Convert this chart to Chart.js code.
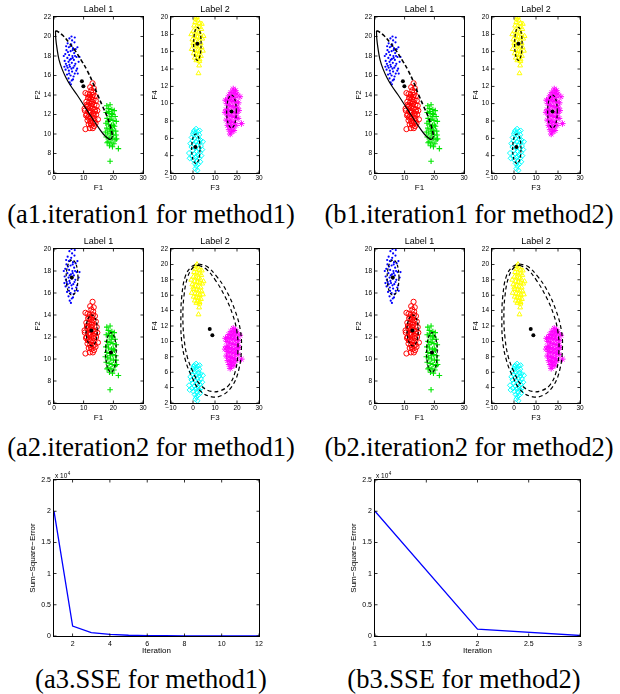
<!DOCTYPE html>
<html>
<head>
<meta charset="utf-8">
<script src="https://cdn.jsdelivr.net/npm/chart.js@4.4.1/dist/chart.umd.min.js"></script>
<style>
    body { margin: 0; background: #fff; width: 620px; height: 694px; position: relative; overflow: hidden; }
    canvas { position: absolute; }
    .frame { position: absolute; box-sizing: border-box; border: 1px solid #000; pointer-events: none; }
    .cap { position: absolute; width: 330px; text-align: center; font-family: 'Liberation Serif', 'Times New Roman', serif;
           font-size: 26.5px; line-height: 30px; color: #000; white-space: nowrap; }
</style>
</head>
<body>
<script>
// ---- cluster samples (F1,F2) ----
const blueF12 = [
    [5.2,19.8],[6.1,19.6],[4.6,19.3],[5.8,19.2],[6.9,19.4],[5.0,18.9],[6.4,18.8],[7.3,18.7],[4.2,18.6],[5.6,18.5],
    [6.8,18.3],[3.8,18.2],[5.1,18.1],[6.2,18.0],[7.6,17.9],[4.5,17.8],[5.7,17.7],[6.7,17.6],[3.6,17.5],[4.9,17.4],
    [6.0,17.3],[7.2,17.2],[8.3,17.4],[4.3,17.0],[5.4,16.9],[6.5,16.8],[7.8,16.7],[3.9,16.6],[5.0,16.5],[6.1,16.4],
    [7.0,16.2],[4.4,16.1],[5.6,16.0],[6.6,15.9],[4.9,15.7],[6.0,15.5],[5.3,15.3],[8.6,17.9],[3.3,18.0],[7.9,18.9],
    [5.9,20.0],[4.0,17.2],[6.9,17.0],[5.2,17.1],[6.3,18.6],[5.5,19.0],[4.7,18.4],[7.1,18.0],[5.9,16.7],[4.6,16.8],
    [6.3,17.8],[5.3,17.6],[7.5,16.5],[5.1,16.2],[6.4,15.6],[4.1,19.0],[7.0,19.9],[5.7,15.1],[8.0,16.2],[3.5,16.9]
];
const redF12 = [
    [13.0,15.2],[12.2,14.8],[13.4,14.7],[12.6,14.5],[10.6,14.2],[11.3,14.1],[12.0,14.0],[13.1,14.0],[13.8,13.9],[11.5,13.7],
    [12.4,13.6],[13.3,13.5],[14.1,13.4],[10.9,13.3],[11.8,13.2],[12.7,13.1],[13.6,13.0],[14.4,12.9],[11.2,12.8],[12.1,12.7],
    [13.0,12.6],[13.9,12.5],[10.4,12.4],[11.5,12.3],[12.4,12.2],[13.3,12.1],[14.2,12.0],[10.8,11.9],[11.8,11.8],[12.7,11.7],
    [13.6,11.6],[14.8,11.5],[11.3,11.4],[12.2,11.3],[13.1,11.2],[14.0,11.1],[11.7,11.0],[12.6,10.9],[13.5,10.8],[10.6,10.5],
    [12.1,10.6],[13.1,10.6],[11.0,12.0],[12.0,12.4],[12.9,13.3],[11.6,12.9],[13.8,12.3],[12.3,11.6],[11.9,13.8],[13.2,14.3],
    [10.3,12.6],[14.6,12.4],[12.5,12.9],[11.4,11.7],[13.4,11.9],[12.8,13.8],[11.1,13.0],[13.7,11.3],[12.4,11.1],[11.9,12.2]
];
const greenF12 = [
    [17.8,12.9],[18.9,13.0],[18.3,12.6],[19.5,12.5],[20.3,12.4],[17.6,12.2],[18.6,12.1],[19.8,12.0],[20.6,11.8],[17.9,11.6],
    [18.9,11.5],[19.9,11.4],[21.0,11.3],[17.5,11.1],[18.4,11.0],[19.4,10.9],[20.4,10.8],[17.8,10.6],[18.8,10.5],[19.8,10.4],
    [20.8,10.3],[18.1,10.1],[19.1,10.0],[20.1,9.9],[17.6,9.7],[18.6,9.6],[19.6,9.5],[20.6,9.4],[18.2,9.2],[19.2,9.1],
    [20.2,9.0],[21.1,9.5],[18.7,8.8],[19.7,8.7],[21.7,8.5],[18.9,7.2],[17.3,10.2],[19.3,11.8],[20.0,10.9],[18.5,12.3],
    [19.0,10.3],[20.9,9.9],[17.9,9.1],[19.5,12.1],[18.2,11.3]
];
// ---- cluster samples (F3,F4) ----
const yellowF34 = [
    [1.8,20.0],[2.2,19.6],[1.0,19.4],[3.0,19.3],[0.5,19.0],[1.7,18.9],[2.8,18.8],[3.8,18.6],[0.2,18.4],[1.3,18.3],
    [2.4,18.2],[3.4,18.0],[0.7,17.8],[1.9,17.7],[3.0,17.6],[4.2,17.5],[-0.3,17.4],[1.0,17.2],[2.2,17.1],[3.5,17.0],
    [0.4,16.8],[1.6,16.7],[2.7,16.6],[3.9,16.5],[-0.6,16.3],[0.9,16.2],[2.0,16.1],[3.1,16.0],[4.5,16.1],[0.3,15.8],
    [1.4,15.7],[2.5,15.6],[3.6,15.5],[0.8,15.3],[2.0,15.2],[3.0,15.1],[1.5,15.0],[2.9,14.9],[2.8,14.4],[2.5,13.5],
    [1.2,19.8],[4.0,19.2],[-0.8,18.0],[4.8,17.8],[0.1,17.0]
];
const magentaF34 = [
    [18.3,11.7],[19.3,11.5],[17.2,11.3],[18.6,11.2],[20.0,11.1],[16.3,10.9],[17.6,10.8],[19.0,10.7],[21.3,10.8],[15.8,10.5],
    [16.9,10.4],[18.2,10.3],[19.5,10.2],[20.6,10.1],[15.4,10.0],[16.5,9.8],[17.8,9.7],[19.1,9.6],[20.3,9.5],[15.1,9.3],
    [16.2,9.2],[17.4,9.1],[18.7,9.0],[19.9,8.9],[15.6,8.7],[16.8,8.6],[18.1,8.5],[19.4,8.4],[20.5,8.3],[15.2,8.1],
    [16.4,8.0],[17.6,7.9],[18.8,7.8],[22.0,7.7],[15.8,7.5],[17.0,7.4],[18.2,7.3],[19.5,7.5],[16.4,7.0],[17.6,6.8],
    [16.9,6.5],[14.6,9.0],[20.8,9.2],[14.8,10.4],[18.6,6.9]
];
const cyanF34 = [
    [1.4,7.1],[0.6,6.9],[2.2,6.8],[1.2,6.6],[0.0,6.5],[2.8,6.4],[1.8,6.3],[-0.6,6.1],[0.8,6.0],[2.4,5.9],
    [3.4,5.8],[-0.2,5.7],[1.3,5.6],[2.9,5.5],[-1.2,5.4],[0.5,5.3],[2.0,5.2],[3.6,5.1],[-0.7,5.0],[1.0,4.9],
    [2.6,4.8],[4.2,4.7],[-0.1,4.6],[1.6,4.5],[3.2,4.4],[-1.8,4.3],[0.6,4.2],[2.2,4.1],[3.8,4.0],[-0.5,3.9],
    [1.2,3.8],[2.8,3.7],[0.2,3.5],[1.8,3.4],[3.3,3.3],[0.8,3.1],[2.3,3.0],[1.5,2.8],[1.1,2.5],[2.0,2.3],
    [-1.5,3.7],[4.5,5.6],[0.3,6.7],[3.0,6.9],[1.7,3.9]
];

// ---- centroids ----
const centersIt1F12 = [[9.4,15.4],[9.9,14.9]];
const centersIt1F34 = [[2.0,16.9],[17.5,9.1],[1.1,5.0]];
const centersIt2F12 = [[6.0,17.4],[12.6,12.6],[19.2,10.6]];
const centersIt2F34 = [[7.6,11.6],[8.8,10.8]];

// ---- covariance ellipse outlines ----
const bigSolidIt1F12 = [[0.5,20.6],[0.6,19.8],[1.0,18.8],[1.7,17.6],[2.8,16.6],[4.0,15.8],[5.5,15.0],[7.8,14.0],
    [11.0,12.5],[14.0,11.1],[16.6,10.0],[18.4,9.5],[19.3,9.5],[19.7,9.8]];
const bigDashIt1F12 = [[0.5,20.6],[1.3,20.5],[3.0,20.1],[5.0,19.4],[7.0,18.6],[9.3,17.5],[11.2,16.5],[12.9,15.4],
    [14.6,14.1],[16.3,12.9],[17.9,11.8],[19.0,10.8],[19.6,10.0],[19.7,9.8]];
const ellYellowIt1 = [[3.7,16.9],[3.47,17.85],[2.85,18.55],[2.0,18.8],[1.15,18.55],[0.53,17.85],[0.3,16.9],
    [0.53,15.95],[1.15,15.25],[2.0,15.0],[2.85,15.25],[3.47,15.95],[3.7,16.9]];
const ellMagentaIt1 = [[19.7,9.1],[19.41,10.05],[18.6,10.75],[17.5,11.0],[16.4,10.75],[15.59,10.05],[15.3,9.1],
    [15.59,8.15],[16.4,7.45],[17.5,7.2],[18.6,7.45],[19.41,8.15],[19.7,9.1]];
const ellCyanIt1 = [[3.2,4.8],[2.95,5.65],[2.25,6.27],[1.3,6.5],[0.35,6.27],[-0.35,5.65],[-0.6,4.8],
    [-0.35,3.95],[0.35,3.33],[1.3,3.1],[2.25,3.33],[2.95,3.95],[3.2,4.8]];
const ellBlueIt2 = [[8.1,17.4],[7.83,18.2],[7.1,18.79],[6.1,19.0],[5.1,18.79],[4.37,18.2],[4.1,17.4],
    [4.37,16.6],[5.1,16.01],[6.1,15.8],[7.1,16.01],[7.83,16.6],[8.1,17.4]];
const ellRedIt2 = [[14.6,12.6],[14.35,13.3],[13.65,13.81],[12.7,14.0],[11.75,13.81],[11.05,13.3],[10.8,12.6],
    [11.05,11.9],[11.75,11.39],[12.7,11.2],[13.65,11.39],[14.35,11.9],[14.6,12.6]];
const ellGreenIt2 = [[21.0,10.6],[20.76,11.5],[20.1,12.16],[19.2,12.4],[18.3,12.16],[17.64,11.5],[17.4,10.6],
    [17.64,9.7],[18.3,9.04],[19.2,8.8],[20.1,9.04],[20.76,9.7],[21.0,10.6]];
const bigOuterIt2F34 = [[2.5,20.05],[6.2,19.75],[10.75,18.45],[15.3,16.5],[19.0,14.1],[21.5,11.5],[22.0,9.0],
    [20.8,6.3],[17.8,4.2],[13.2,3.0],[8.5,2.8],[3.2,3.6],[-0.5,5.4],[-3.5,7.6],[-5.2,10.2],[-5.5,13.3],
    [-5.1,15.85],[-3.5,18.45],[-0.5,19.75],[2.5,20.05]];
const bigInnerIt2F34 = [[2.5,19.9],[6.0,19.4],[10.3,17.9],[14.6,15.8],[18.0,13.5],[20.0,11.2],[20.4,8.7],
    [19.3,6.2],[16.5,4.4],[12.5,3.6],[8.3,3.5],[3.5,4.3],[0.2,5.9],[-2.6,8.0],[-4.1,10.5],[-4.6,13.3],
    [-4.1,15.9],[-2.5,18.3],[0.0,19.6],[2.5,19.9]];

// ---- SSE per iteration ----
const sseIterM1 = [1, 2, 3, 4, 5, 6, 7, 8, 9, 10, 11, 12];
const sseM1 = [20000, 1600, 550, 250, 120, 60, 40, 30, 20, 10, 10, 5];
const sseIterM2 = [1, 2, 3];
const sseM2 = [20000, 1100, 80];

// ---- tick labels ----
const ticksF1 = [0, 10, 20, 30];
const ticksF3 = [-10, 0, 10, 20, 30];
const ticksF2It1 = [6, 8, 10, 12, 14, 16, 18, 20, 22];
const ticksF4It1 = [2, 4, 6, 8, 10, 12, 14, 16, 18, 20];
const ticksF2It2 = [6, 8, 10, 12, 14, 16, 18, 20];
const ticksF4It2 = [2, 4, 6, 8, 10, 12, 14, 16, 18, 20, 22];
const ticksIterM1 = [2, 4, 6, 8, 10, 12];
const ticksIterM2 = [1, 1.5, 2, 2.5, 3];
const ticksSSE = [0, 5000, 10000, 15000, 20000, 25000];

const FONT = "'Liberation Sans', Arial, Helvetica, sans-serif";
Chart.defaults.font.family = FONT;
Chart.defaults.color = '#000';

const pts = arr => arr.map(p => ({x: p[0], y: p[1]}));
const fmtTick = v => (v < 0 ? '\u2212' + Math.abs(v) : String(v));

// inward tick marks on all four sides, plus the optional "x 10^4" multiplier
function makeDecor(withExp) {
    return {
        id: 'decor',
        afterDraw(chart) {
            const ctx = chart.ctx;
            const x = chart.scales.x;
            const y = chart.scales.y;
            const left = x.left, right = x.right, top = y.top, bottom = y.bottom;
            const tl = 2.5;
            ctx.save();
            ctx.fillStyle = '#000';
            x.ticks.forEach(t => {
                const px = x.getPixelForValue(t.value);
                ctx.fillRect(px - 0.4, bottom - tl, 0.8, tl);
                ctx.fillRect(px - 0.4, top, 0.8, tl);
            });
            y.ticks.forEach(t => {
                const py = y.getPixelForValue(t.value);
                ctx.fillRect(left, py - 0.4, tl, 0.8);
                ctx.fillRect(right - tl, py - 0.4, tl, 0.8);
            });
            if (withExp) {
                ctx.font = '6.5px ' + FONT;
                ctx.fillText('x 10', left + 1, top - 2);
                const tw = ctx.measureText('x 10').width;
                ctx.font = '4.5px ' + FONT;
                ctx.fillText('4', left + 1.5 + tw, top - 5.5);
            }
            ctx.restore();
        }
    };
}

function addCanvas(left, top, w, h) {
    const c = document.createElement('canvas');
    c.width = w;
    c.height = h;
    c.style.left = left + 'px';
    c.style.top = top + 'px';
    c.style.width = w + 'px';
    c.style.height = h + 'px';
    document.body.appendChild(c);
    return c;
}

// axes box drawn over the plot area
function addFrame(box) {
    const [pl, pt, pr, pb] = box;
    const d = document.createElement('div');
    d.className = 'frame';
    d.style.left = (pl - 1) + 'px';
    d.style.top = (pt - 1) + 'px';
    d.style.width = (pr - pl + 2) + 'px';
    d.style.height = (pb - pt + 2) + 'px';
    document.body.appendChild(d);
}

function addCaption(cx, cy, text) {
    const d = document.createElement('div');
    d.className = 'cap';
    d.style.left = (cx - 165) + 'px';
    d.style.top = (cy - 15) + 'px';
    d.textContent = text;
    document.body.appendChild(d);
}

function axis(dir, min, max, ticks, title, o) {
    o = o || {};
    const isX = dir === 'x';
    return {
        type: 'linear',
        min: min,
        max: max,
        afterBuildTicks: s => { s.ticks = ticks.map(v => ({value: v})); },
        afterFit: s => { if (isX) s.height = o.size || 23; else s.width = o.size || 30; },
        grid: {display: false, drawTicks: false},
        border: {display: false},
        ticks: {
            autoSkip: false, maxRotation: 0, minRotation: 0,
            padding: isX ? (o.tickPad !== undefined ? o.tickPad : 1.5) : 3,
            font: {size: o.tickSize || 6.5},
            callback: o.fmt || fmtTick
        },
        title: {
            display: true, text: title, font: {size: 8},
            padding: isX ? {top: 0, bottom: o.titlePad !== undefined ? o.titlePad : 3.7}
                         : {top: o.titlePad !== undefined ? o.titlePad : 9.2, bottom: 0}
        }
    };
}

function dots(arr, color, style, r, bw, fill) {
    return {
        data: pts(arr), pointStyle: style, pointRadius: r, borderWidth: bw,
        borderColor: color, backgroundColor: fill ? color : 'rgba(0,0,0,0)'
    };
}

function curve(arr, dash, width) {
    return {
        data: pts(arr), showLine: true, pointRadius: 0, borderColor: '#000', backgroundColor: '#000',
        borderWidth: width || 1.2, borderDash: dash || [], tension: 0.4, fill: false
    };
}

// plot area [left, top, right, bottom] in page pixels
function scatterPanel(box, title, xTitle, yTitle, xMin, xMax, xTicks, yMin, yMax, yTicks, datasets) {
    const [pl, pt, pr, pb] = box;
    const c = addCanvas(pl - 30, pt - 17, pr - pl + 38, pb - pt + 40);
    new Chart(c, {
        type: 'scatter',
        data: {datasets: datasets},
        options: {
            responsive: false,
            animation: false,
            devicePixelRatio: 1,
            layout: {padding: {right: 8}},
            plugins: {
                legend: {display: false},
                tooltip: {enabled: false},
                title: {display: true, fullSize: false, text: title,
                        font: {size: 9, weight: 'normal', lineHeight: '12px'},
                        padding: {top: 4, bottom: 1}}
            },
            scales: {
                x: axis('x', xMin, xMax, xTicks, xTitle),
                y: axis('y', yMin, yMax, yTicks, yTitle)
            }
        },
        plugins: [makeDecor(false)]
    });
    addFrame(box);
}

function ssePanel(box, iters, sse, xMin, xMax, xTicks) {
    const [pl, pt, pr, pb] = box;
    const c = addCanvas(pl - 30, pt - 12, pr - pl + 38, pb - pt + 33);
    new Chart(c, {
        type: 'scatter',
        data: {datasets: [{
            data: iters.map((it, i) => ({x: it, y: sse[i]})),
            showLine: true, pointRadius: 0, borderColor: '#0000ff', borderWidth: 1.3, fill: false
        }]},
        options: {
            responsive: false,
            animation: false,
            devicePixelRatio: 1,
            layout: {padding: {top: 12, right: 8}},
            plugins: {legend: {display: false}, tooltip: {enabled: false}},
            scales: {
                x: axis('x', xMin, xMax, xTicks, 'Iteration', {size: 21, tickSize: 7, tickPad: 3.5, titlePad: 1}),
                y: axis('y', 0, 25000, ticksSSE, 'Sum\u2212Square\u2212Error',
                        {tickSize: 7, titlePad: 4.2, fmt: v => String(v / 1e4)})
            }
        },
        plugins: [makeDecor(true)]
    });
    addFrame(box);
}

const GREEN = '#00e600';

function it1Label1() {
    return [
        dots(centersIt1F12, '#000', 'circle', 2, 0, true),
        curve(bigSolidIt1F12, [], 1.2),
        curve(bigDashIt1F12, [4, 2.5], 1.6),
        dots(blueF12, '#0000ff', 'circle', 1.1, 0, true),
        dots(redF12, '#ff0000', 'circle', 2.6, 1, false),
        dots(greenF12, GREEN, 'cross', 2.8, 1.1, false)
    ];
}
function it1Label2() {
    return [
        dots(centersIt1F34, '#000', 'circle', 2, 0, true),
        curve(ellYellowIt1, [3, 2]),
        curve(ellMagentaIt1, [3, 2]),
        curve(ellCyanIt1, [3, 2]),
        dots(yellowF34, '#ffff00', 'triangle', 2.8, 1, false),
        dots(magentaF34, '#ff00ff', 'star', 3.2, 1, false),
        dots(cyanF34, '#00ffff', 'rectRot', 2.6, 1, false)
    ];
}
function it2Label1() {
    return [
        dots(centersIt2F12, '#000', 'circle', 2, 0, true),
        curve(ellBlueIt2, [3, 2]),
        curve(ellRedIt2, [3, 2]),
        curve(ellGreenIt2, [3, 2]),
        dots(blueF12, '#0000ff', 'circle', 1.1, 0, true),
        dots(redF12, '#ff0000', 'circle', 2.6, 1, false),
        dots(greenF12, GREEN, 'cross', 2.8, 1.1, false)
    ];
}
function it2Label2() {
    return [
        dots(centersIt2F34, '#000', 'circle', 2, 0, true),
        curve(bigOuterIt2F34, [4, 3]),
        curve(bigInnerIt2F34, [4, 3]),
        dots(yellowF34, '#ffff00', 'triangle', 2.8, 1, false),
        dots(magentaF34, '#ff00ff', 'star', 3.2, 1, false),
        dots(cyanF34, '#00ffff', 'rectRot', 2.6, 1, false)
    ];
}

// row 1: iteration 1
[[54, 171], [375, 492]].forEach(([l1, l2]) => {
    scatterPanel([l1, 17, l1 + 89, 173], 'Label 1', 'F1', 'F2', 0, 30, ticksF1, 6, 22, ticksF2It1, it1Label1());
    scatterPanel([l2, 17, l2 + 88, 173], 'Label 2', 'F3', 'F4', -10, 30, ticksF3, 2, 20, ticksF4It1, it1Label2());
});
// row 2: iteration 2
[[54, 171], [375, 492]].forEach(([l1, l2]) => {
    scatterPanel([l1, 249, l1 + 89, 403], 'Label 1', 'F1', 'F2', 0, 30, ticksF1, 6, 20, ticksF2It2, it2Label1());
    scatterPanel([l2, 249, l2 + 88, 403], 'Label 2', 'F3', 'F4', -10, 30, ticksF3, 2, 22, ticksF4It2, it2Label2());
});
// row 3: SSE curves
ssePanel([54, 480, 259, 636], sseIterM1, sseM1, 1, 12, ticksIterM1);
ssePanel([375, 480, 580, 636], sseIterM2, sseM2, 1, 3, ticksIterM2);

addCaption(151, 214, '(a1.iteration1 for method1)');
addCaption(469, 214, '(b1.iteration1 for method2)');
addCaption(151, 447, '(a2.iteration2 for method1)');
addCaption(469, 447, '(b2.iteration2 for method2)');
addCaption(151, 679, '(a3.SSE for method1)');
addCaption(464, 679, '(b3.SSE for method2)');
</script>
</body>
</html>
